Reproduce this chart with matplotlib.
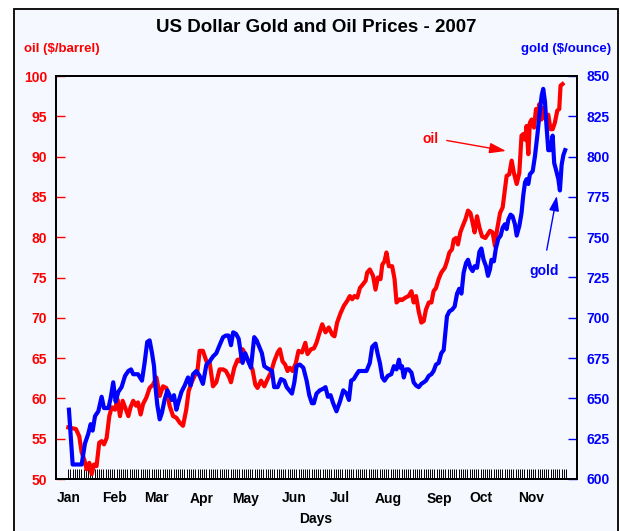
import matplotlib
matplotlib.use("Agg")
import matplotlib.pyplot as plt
from matplotlib.patches import Rectangle
from matplotlib.ticker import FixedLocator, NullFormatter

# --- DATA (trading-day index from Jan 2, 2007) ---
oil_days = [0.0, 3.5, 5.0, 6.1, 7.3, 8.4, 9.6, 10.7, 11.7, 12.9, 14.1, 15.2, 16.3, 17.5,
            18.7, 19.8, 21.3, 22.4, 23.6, 24.8, 26.3, 27.4, 28.4, 29.6, 30.9, 31.8, 33.0,
            34.1, 35.6, 37.1, 38.6, 40.2, 41.7, 43.2, 44.7, 46.2, 47.8, 49.3, 50.8, 52.3,
            53.8, 54.9, 56.1, 57.6, 58.9, 59.9, 61.4, 63.0, 64.5, 66.0, 67.5, 69.0, 70.6,
            71.9, 73.4, 74.2, 75.7, 77.2, 78.3, 79.5, 81.0, 82.5, 84.0, 85.3, 86.3, 87.9,
            89.4, 90.9, 92.4, 93.9, 95.5, 96.5, 97.7, 98.9, 100.0, 101.0, 102.3, 103.8,
            105.0, 106.6, 108.1, 109.1, 110.7, 112.0, 113.2, 114.3, 115.8, 117.3, 118.8,
            120.4, 121.4, 122.6, 124.2, 125.7, 127.2, 128.4, 129.5, 130.5, 131.8, 133.0,
            134.5, 135.6, 136.3, 137.5, 139.0, 140.1, 141.2, 142.4, 143.2, 144.2, 145.1,
            146.2, 147.7, 148.8, 149.7, 151.2, 152.2, 153.7, 155.2, 156.5, 157.5, 158.6,
            159.8, 161.0, 162.1, 163.1, 164.4, 165.6, 166.6, 167.7, 168.9, 170.1, 171.7,
            172.7, 173.8, 175.0, 175.8, 176.8, 177.7, 178.8, 179.9, 181.1, 182.3, 183.4,
            184.4, 185.3, 186.4, 187.5, 188.7, 190.2, 191.4, 192.3, 193.5, 194.6, 195.6,
            196.9, 198.1, 199.1, 199.9, 201.1, 202.2, 203.2, 204.5, 205.7, 206.7, 207.5,
            208.3, 209.0, 209.8, 210.5, 211.3, 212.4, 213.3, 214.0, 214.8, 215.8, 216.9,
            217.8, 218.9, 219.9, 220.9, 221.9, 223.0, 223.9, 224.5, 225.4]
oil_price = [56.4, 56.2, 55.3, 53.3, 52.4, 51.2, 52.0, 50.6, 51.8, 51.6, 54.5, 54.7, 54.3,
             55.1, 57.8, 58.9, 58.6, 59.9, 57.8, 59.7, 58.6, 57.8, 58.9, 59.7, 59.1, 59.5,
             58.0, 59.3, 60.1, 61.3, 61.7, 62.6, 60.3, 61.5, 61.3, 59.1, 57.8, 57.6, 57.0,
             56.6, 58.6, 60.9, 61.9, 62.8, 63.4, 65.9, 65.9, 64.6, 64.4, 61.5, 62.0, 63.6,
             63.6, 63.4, 62.6, 62.0, 63.8, 64.8, 64.6, 66.1, 65.3, 64.4, 63.6, 61.7, 61.3,
             62.2, 61.5, 62.4, 63.2, 64.6, 65.7, 66.1, 64.6, 64.2, 63.4, 63.8, 63.4, 64.4,
             65.9, 65.7, 66.9, 65.5, 66.1, 66.2, 66.9, 67.9, 69.2, 68.2, 68.8, 67.9, 67.7,
             69.4, 70.6, 71.5, 72.1, 72.7, 72.3, 72.7, 72.5, 73.7, 74.2, 74.6, 75.6, 76.0,
             75.2, 73.5, 75.0, 74.8, 76.6, 77.0, 78.1, 76.4, 76.4, 74.8, 71.9, 72.3, 72.2,
             72.5, 72.7, 73.3, 71.9, 72.7, 70.8, 69.4, 69.6, 71.0, 71.9, 71.9, 73.3, 73.7,
             74.8, 75.6, 76.2, 77.0, 78.1, 78.5, 79.7, 79.9, 79.1, 80.6, 81.4, 82.2, 83.3,
             83.0, 81.8, 80.6, 82.6, 81.2, 80.1, 79.9, 80.4, 80.8, 80.6, 78.9, 81.0, 83.0,
             83.7, 85.9, 87.6, 87.8, 89.5, 88.0, 86.6, 88.0, 92.6, 92.8, 92.1, 93.8, 90.3,
             94.2, 94.6, 93.6, 95.9, 94.8, 96.5, 94.6, 96.1, 94.6, 95.2, 93.4, 93.4, 94.2,
             95.7, 95.9, 98.8, 99.0]

gold_days = [0.3, 2.0, 6.1, 7.6, 9.1, 10.2, 11.1, 12.2, 13.7, 15.2, 16.3, 18.3, 19.3, 20.5,
             21.6, 22.8, 24.3, 25.9, 27.4, 28.6, 29.6, 31.8, 33.6, 34.8, 36.0, 37.1, 38.2,
             39.1, 39.7, 40.6, 41.7, 42.7, 43.9, 45.2, 46.2, 47.3, 48.2, 49.3, 50.3, 51.6,
             53.1, 54.6, 55.8, 56.9, 58.4, 59.9, 61.4, 63.0, 64.5, 66.0, 67.5, 69.0, 70.6,
             71.9, 73.1, 74.2, 75.2, 76.5, 77.7, 78.7, 79.5, 80.7, 81.8, 83.3, 84.8, 85.9,
             87.1, 88.3, 89.4, 90.4, 91.7, 92.9, 93.9, 95.5, 97.0, 98.5, 99.6, 100.8, 102.0,
             103.1, 104.1, 105.6, 107.2, 108.7, 109.9, 111.1, 112.0, 113.2, 114.7, 116.3,
             117.3, 118.4, 119.6, 120.8, 122.3, 123.9, 125.4, 126.9, 128.0, 129.0, 130.2,
             131.5, 132.5, 134.0, 136.0, 137.5, 138.6, 140.1, 141.2, 142.1, 143.2, 144.2,
             145.7, 147.3, 148.5, 149.7, 150.8, 151.5, 152.2, 153.0, 154.0, 155.2, 156.5,
             157.5, 158.6, 159.8, 161.0, 162.1, 163.1, 164.4, 165.6, 166.6, 167.7, 168.9,
             170.1, 171.2, 172.0, 172.7, 173.8, 175.0, 176.2, 177.3, 178.3, 179.3, 180.3,
             181.4, 182.3, 183.4, 184.4, 185.3, 186.4, 187.5, 188.4, 189.4, 190.5, 191.4,
             192.3, 193.0, 194.1, 195.0, 196.1, 197.2, 198.1, 199.1, 199.9, 200.7, 201.7,
             202.6, 203.7, 204.5, 205.7, 206.7, 207.5, 208.3, 209.0, 209.8, 210.5, 211.8,
             212.8, 213.9, 214.8, 215.9, 216.6, 217.4, 218.1, 218.9, 219.9, 220.9, 221.6,
             222.4, 223.5, 224.2, 225.0, 225.8, 226.6]
gold_price = [643, 609, 609, 622, 628, 634, 630, 639, 642, 651, 644, 644, 650, 660,
              648, 654, 657, 664, 667, 668, 665, 665, 661, 672, 685, 686, 678,
              670, 658, 646, 637, 641, 649, 655, 652, 649, 652, 643, 648, 654,
              658, 663, 658, 665, 667, 664, 659, 671, 673, 676, 678, 683, 688,
              689, 689, 683, 691, 690, 687, 678, 672, 678, 674, 669, 688, 686,
              682, 678, 670, 669, 668, 667, 657, 657, 662, 661, 657, 655, 653,
              660, 670, 671, 669, 661, 652, 647, 647, 653, 655, 656,
              657, 651, 652, 647, 642, 648, 655, 653, 649, 661, 662,
              665, 667, 667, 667, 672, 682, 684, 677, 672, 663, 661,
              664, 665, 670, 668, 674, 669, 670, 663, 668, 668, 666,
              660, 658, 657, 659, 660, 661, 664, 665, 667, 671, 672,
              678, 680, 691, 701, 704, 705, 707, 715, 718, 715, 728,
              734, 736, 731, 729, 732, 731, 741, 743, 736, 732, 726,
              730, 736, 735, 743, 749, 751, 756, 758, 755, 761, 764,
              763, 758, 751, 757, 765, 776, 784, 786, 783, 789, 791,
              800, 813, 825, 838, 842, 834, 819, 804, 804, 813, 796,
              792, 786, 779, 795, 801, 804]

month_labels = ["Jan", "Feb", "Mar", "Apr", "May", "Jun", "Jul", "Aug", "Sep", "Oct", "Nov"]
month_start_days = [0, 21, 40, 61, 81, 103, 124, 146, 169, 188, 211]
n_day_ticks = 228
oil_ticks = [50, 55, 60, 65, 70, 75, 80, 85, 90, 95, 100]
gold_ticks = [600, 625, 650, 675, 700, 725, 750, 775, 800, 825, 850]

# --- STYLE ---
BG = '#f5f9ff'
RED = '#ff0000'
BLUE = '#0000ff'
FONT = 'Liberation Sans'
plt.rcParams['font.family'] = [FONT, 'DejaVu Sans']
plt.rcParams['font.weight'] = 'bold'

fig = plt.figure(figsize=(6.2, 5.31), dpi=100, facecolor='white')
W, H = 620, 531

# light blue panel with black frame
fig.patches.append(Rectangle((14 / W, -0.1), (618 - 14) / W, 1 - 9 / H + 0.1,
                             transform=fig.transFigure, facecolor=BG,
                             edgecolor='black', linewidth=1.3, zorder=-10))

ax = fig.add_axes([56 / W, 1 - 479 / H, (577 - 56) / W, (479 - 76) / H])
ax.set_facecolor(BG)
ax2 = ax.twinx()

ax.plot(oil_days, oil_price, color=RED, lw=3, solid_joinstyle='round', zorder=3)
ax2.plot(gold_days, gold_price, color=BLUE, lw=3, solid_joinstyle='round', zorder=3)

ax.set_xlim(-5.6, 232)
ax.set_ylim(50, 100)
ax2.set_ylim(600, 850)

# x axis: month labels + one tick per trading day
ax.xaxis.set_major_locator(FixedLocator(month_start_days))
ax.set_xticklabels(month_labels, fontsize=10, fontweight='bold')
ax.xaxis.set_minor_locator(FixedLocator(list(range(n_day_ticks))))
ax.xaxis.set_minor_formatter(NullFormatter())
ax.tick_params(axis='x', which='both', direction='in', length=7.5, width=0.7,
               color='black', pad=9)
ax.tick_params(axis='x', which='both', top=False)

ax.set_yticks(oil_ticks)
ax.set_yticklabels([str(v) for v in oil_ticks], fontsize=10, fontweight='bold', color=RED)
ax.tick_params(axis='y', direction='in', length=6.5, width=1, color=RED, pad=6.5)

ax2.set_yticks(gold_ticks)
ax2.set_yticklabels([str(v) for v in gold_ticks], fontsize=10, fontweight='bold', color=BLUE)
ax2.tick_params(axis='y', direction='in', length=6.5, width=1, color=BLUE, pad=7)

for a in (ax, ax2):
    for s in a.spines.values():
        s.set_linewidth(1.3)
        s.set_color('black')

# texts
fig.text(316 / W, 1 - 28 / H, "US Dollar Gold and Oil Prices - 2007", ha='center', va='center',
         fontsize=13.5, fontweight='bold', color='black')
fig.text(24 / W, 1 - 49 / H, "oil ($/barrel)", ha='left', va='center',
         fontsize=9.5, fontweight='bold', color=RED)
fig.text(611 / W, 1 - 49 / H, "gold ($/ounce)", ha='right', va='center',
         fontsize=9.5, fontweight='bold', color=BLUE)
fig.text(316 / W, 1 - 519 / H, "Days", ha='center', va='center',
         fontsize=10, fontweight='bold', color='black')

# annotations
ax.text(165.4, 92.2, "oil", ha='center', va='center', fontsize=10, fontweight='bold', color=RED)
ax.annotate('', xy=(199.6, 90.7), xytext=(172.6, 92.0),
            arrowprops=dict(arrowstyle='-|>,head_length=1.0,head_width=0.32',
                            color=RED, lw=1, shrinkA=0, shrinkB=0))
ax2.text(216.9, 729, "gold", ha='center', va='center', fontsize=10, fontweight='bold', color=BLUE)
ax2.annotate('', xy=(222.8, 775.6), xytext=(218.2, 742),
             arrowprops=dict(arrowstyle='-|>,head_length=0.9,head_width=0.3',
                             color=BLUE, lw=1, shrinkA=0, shrinkB=0))

fig.savefig('out.png', dpi=100, facecolor='white')
